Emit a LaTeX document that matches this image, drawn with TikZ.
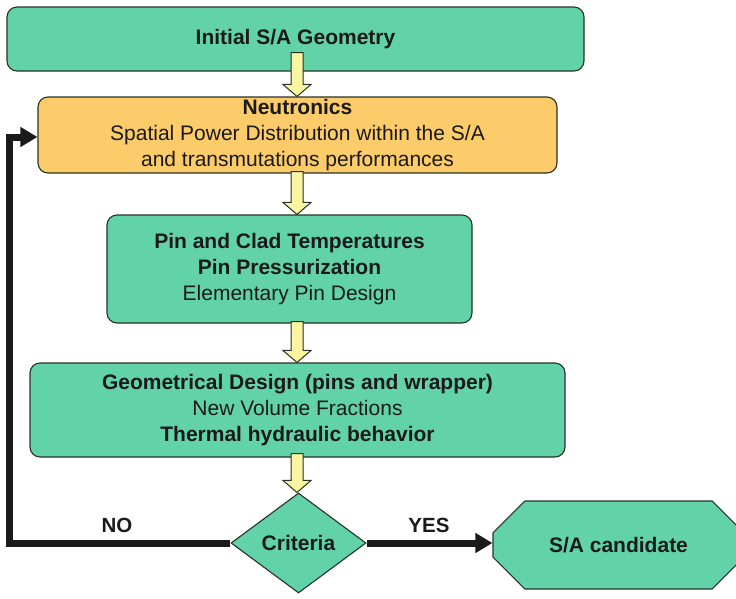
\documentclass[tikz,border=0pt]{standalone}
\usepackage{fontspec}
\setmainfont{Liberation Sans}
\usepackage{xcolor}
\usetikzlibrary{positioning,shapes.geometric,shapes.misc,arrows.meta,calc}

\definecolor{boxgreen}{HTML}{62D3A8}
\definecolor{boxorange}{HTML}{FCCB6A}
\definecolor{arrowyellow}{HTML}{FAF59E}
\definecolor{edgedark}{HTML}{263226}
\definecolor{inkdark}{HTML}{1A1A1A}

\tikzset{
    stage/.style={draw=edgedark, line width=1.1pt, fill=boxgreen, rounded corners=10pt,
        align=center, text=inkdark, font=\fontsize{21}{26}\selectfont, inner sep=0pt},
    decision/.style={draw=edgedark, line width=1.1pt, fill=boxgreen, diamond, aspect=1.35,
        inner sep=0pt, text=inkdark, font=\fontsize{21}{26}\selectfont\bfseries},
    outcome/.style={draw=edgedark, line width=1.1pt, fill=boxgreen, chamfered rectangle,
        chamfered rectangle xsep=28pt, chamfered rectangle ysep=24pt, inner sep=0pt,
        text=inkdark, font=\fontsize{21}{26}\selectfont\bfseries},
    fatarrow/.style={draw=edgedark, line width=1pt, fill=arrowyellow, line join=miter},
    loopline/.style={line width=7pt, draw=inkdark, line join=miter},
    tag/.style={text=inkdark, font=\fontsize{20.5}{24}\selectfont\bfseries}
}

% yellow block arrow running straight down from #1 to the level of node anchor #2
\newcommand\flowarrow[2]{%
    \coordinate (fa-s) at #1;
    \coordinate (fa-e) at (fa-s |- #2);
    \draw[fatarrow] ($(fa-s)+(-6,0)$) -- ($(fa-e)+(-6,-12)$) -- ($(fa-e)+(-14,-12)$)
        -- (fa-e) -- ($(fa-e)+(14,-12)$) -- ($(fa-e)+(6,-12)$) -- ($(fa-s)+(6,0)$) -- cycle;
}

\begin{document}
\begin{tikzpicture}[x=1pt, y=-1pt]
    \useasboundingbox (0,0) rectangle (736,598);

    \node[stage, minimum width=577pt, minimum height=64pt] (init) at (295.5,39)
        {\textbf{Initial S/A Geometry}};
    \node[stage, fill=boxorange, minimum width=519pt, minimum height=76pt] (neut) at (297.5,135)
        {\textbf{Neutronics}\\Spatial Power Distribution within the S/A\\and transmutations performances};
    \node[stage, minimum width=365pt, minimum height=108pt] (pin) at (289.5,269)
        {\textbf{Pin and Clad Temperatures}\\\textbf{Pin Pressurization}\\Elementary Pin Design};
    \node[stage, minimum width=535pt, minimum height=94pt] (geo) at (297.5,410)
        {\textbf{Geometrical Design (pins and wrapper)}\\New Volume Fractions\\\textbf{Thermal hydraulic behavior}};
    \node[decision, minimum width=135pt, minimum height=100pt] (crit) at (298.5,543) {Criteria};
    \node[outcome, minimum width=251pt, minimum height=88pt] (cand) at (618.5,545) {S/A candidate};

    % flow arrows between the stages
    \coordinate (axis) at (297,0);
    \foreach \a/\b/\d in {init/neut/19, neut/pin/2, pin/geo/2, geo/crit/4}
        \flowarrow{($(\a.south -| axis)+(0,-\d)$)}{\b.north};

    % yes / no branches
    \draw[loopline, -{Triangle[width=19pt,length=17pt]}] (crit.east) -- (crit.east -| cand.west);
    \draw[loopline, -{Triangle[width=19pt,length=17pt]}] (crit.west) -| ($(neut.west)+(-28,2)$) -- ($(neut.west)+(0,2)$);
    \node[tag] (yes) at (429,525) {YES};
    \node[tag] (no) at (117,525) {NO};
\end{tikzpicture}
\end{document}
